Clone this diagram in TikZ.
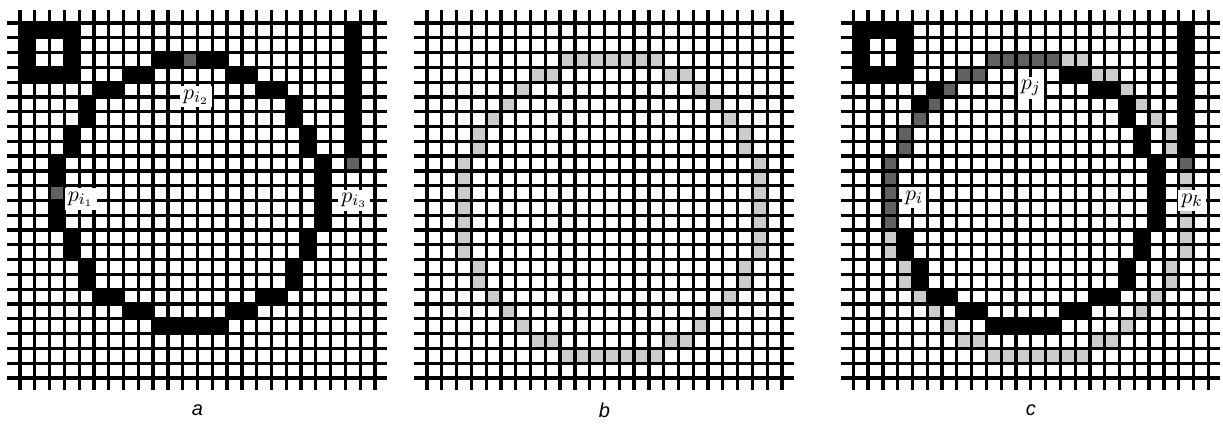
\documentclass[tikz,border=0pt]{standalone}
\usepackage{fontspec}
\setsansfont{Liberation Sans}
\usepackage{tikz}
\usetikzlibrary{positioning}

\definecolor{midpix}{gray}{0.38}
\definecolor{lightpix}{gray}{0.80}

% fill a list of cells col/row
\newcommand{\pixels}[2]{\edef\pixlist{#2}%
  \foreach \c/\r in \pixlist \fill[#1] (\c,\r) rectangle ++(1,1);}
% 24x24 raster with overhanging line ends
\newcommand{\raster}{%
  \foreach \i in {0,...,24} {
    \draw[gridline] (\i,-0.85) -- (\i,24.82);
    \draw[gridline] (-0.85,\i) -- (24.82,\i);
  }}
\newcommand{\circA}{9/2,10/2,11/2,12/2,13/2,7/3,8/3,14/3,15/3,5/4,6/4,16/4,17/4,%
  4/5,18/5,4/6,18/6,3/7,19/7,3/8,19/8,2/9,20/9,2/10,20/10,2/11,20/11,2/12,20/12,%
  2/13,20/13,3/14,19/14,3/15,19/15,4/16,18/16,4/17,18/17,5/18,6/18,16/18,17/18,%
  7/19,8/19,14/19,15/19,9/20,10/20,11/20,12/20,13/20}
\newcommand{\circB}{9/2,10/2,11/2,12/2,13/2,14/2,15/2,7/3,8/3,16/3,17/3,6/4,18/4,%
  5/5,19/5,4/6,20/6,3/7,21/7,3/8,21/8,2/9,22/9,2/10,22/10,2/11,22/11,2/12,22/12,%
  2/13,22/13,2/14,22/14,2/15,22/15,3/16,21/16,3/17,21/17,4/18,20/18,5/19,19/19,%
  6/20,18/20,7/21,8/21,16/21,17/21,9/22,10/22,11/22,12/22,13/22,14/22,15/22}
\newcommand{\squareblob}{%
  \fill (0,0) rectangle (4,4);
  \fill[white] (1,1) rectangle (3,3);}

\begin{document}
\begin{tikzpicture}[
  x=0.5pt, y=-0.5pt,
  gridline/.style={line width=1.65pt},
  tag/.style={fill=white, inner sep=1.6pt, font=\fontsize{11}{13}\selectfont},
  captext/.style={font=\sffamily\itshape\fontsize{10}{12}\selectfont}
]
  \useasboundingbox (0,0) rectangle (1223,426);

  % panel a: raster with three marked points
  \begin{scope}[shift={(20,23)}, x=7.395pt, y=-7.395pt]
    \squareblob
    \pixels{black}{22/0,22/1,22/2,22/3,22/4,22/5,22/6,22/7,22/8}
    \pixels{black}{\circA}
    \pixels{midpix}{11/2,2/11,22/9}
    \raster
    \node[tag] (pione) at (4.1,11.9) {$p_{i_1}$};
    \node[tag] (pitwo) at (11.9,5.0) {$p_{i_2}$};
    \node[tag] (pithree) at (22.6,12.0) {$p_{i_3}$};
    \node[captext] (capa) at (12,26.2) {a};
  \end{scope}

  % panel b: fitted circle
  \begin{scope}[shift={(427,23)}, x=7.395pt, y=-7.395pt]
    \pixels{lightpix}{\circB}
    \raster
    \node[captext] (capb) at (12,26.2) {b};
  \end{scope}

  % panel c: overlay
  \begin{scope}[shift={(853.3,23)}, x=7.395pt, y=-7.395pt]
    \squareblob
    \pixels{black}{22/0,22/1,22/2,22/3,22/4,22/5,22/6,22/7,22/8}
    \pixels{black}{\circA}
    \pixels{lightpix}{\circB}
    \pixels{midpix}{2/9,2/10,2/11,2/12,2/13,3/7,3/8,4/6,5/5,6/4,7/3,8/3,%
      9/2,10/2,11/2,12/2,13/2,22/9}
    \raster
    \node[tag] (pi) at (4.1,11.8) {$p_i$};
    \node[tag] (pj) at (12.0,4.4) {$p_j$};
    \node[tag] (pk) at (22.9,12.0) {$p_k$};
    \node[captext] (capc) at (12,26.2) {c};
  \end{scope}
\end{tikzpicture}
\end{document}
